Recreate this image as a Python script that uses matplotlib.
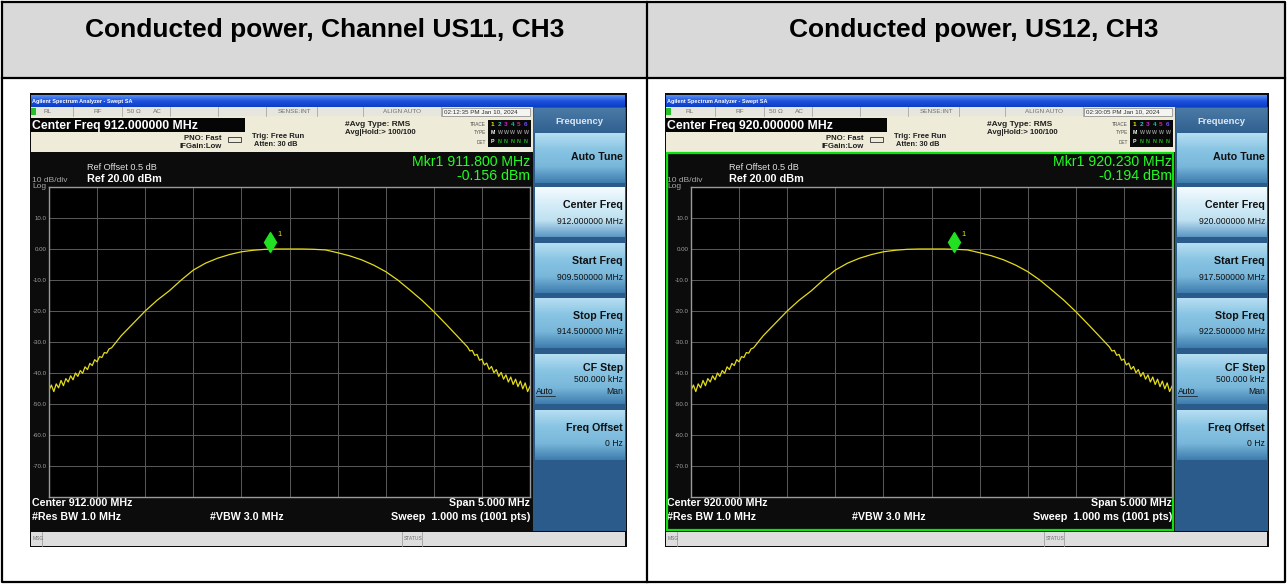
import numpy as np
import matplotlib.pyplot as plt
from matplotlib.patches import Rectangle
from matplotlib.colors import LinearSegmentedColormap
import matplotlib.transforms as mtransforms

plt.rcParams['font.family'] = ['Liberation Sans', 'DejaVu Sans']

# table headers and analyzer settings
titles = ["Conducted power, Channel US11, CH3", "Conducted power, US12, CH3"]
center_mhz = [912.0, 920.0]
span_mhz = 5.0
ref_dbm = 20.0
db_div = 10.0
mkr_mhz = [911.800, 920.230]
mkr_dbm = [-0.156, -0.194]
stamps = ["02:12:35 PM Jan 10, 2024", "02:30:05 PM Jan 10, 2024"]
cf_step = "500.000 kHz"
freq_offset = "0 Hz"

# trace: offset from centre (MHz) and level (dBm)
edge_lo_mhz = np.linspace(-2.5, -1.85, 27)
edge_lo_dbm = [-45.6, -43.9, -46.0, -43.5, -44.8, -42.4, -44.1, -41.8, -42.9,
               -40.9, -42.2, -40.0, -41.1, -39.2, -40.1, -38.0, -38.9, -36.9,
               -37.6, -35.7, -36.4, -34.7, -35.0, -33.4, -33.6, -32.2, -31.9]
mid_mhz = [-1.75, -1.625, -1.5, -1.375, -1.25, -1.125, -1.0, -0.875, -0.75,
           -0.625, -0.5, -0.375, -0.25, -0.125, 0.0, 0.125, 0.25, 0.375, 0.5,
           0.625, 0.75, 0.875, 1.0, 1.125, 1.25, 1.375, 1.5, 1.625, 1.75]
mid_dbm = [-28.0, -24.0, -20.0, -16.5, -13.5, -10.0, -6.8, -4.6, -3.0, -1.8,
           -0.9, -0.4, -0.1, 0.0, 0.0, 0.0, -0.1, -0.3, -1.2, -2.2, -3.5, -5.2,
           -7.3, -10.0, -13.2, -16.5, -20.2, -24.2, -28.3]
edge_hi_mhz = np.linspace(1.85, 2.5, 27)
edge_hi_dbm = [-31.6, -32.9, -32.7, -34.3, -34.0, -35.9, -35.5, -37.4, -36.8,
               -38.8, -37.9, -39.9, -38.9, -41.1, -39.8, -42.0, -40.6, -42.9,
               -41.3, -43.7, -42.0, -44.4, -42.6, -45.1, -43.2, -46.0, -44.3]

W, H = 1287, 584
fig = plt.figure(figsize=(W / 100, H / 100), dpi=100)
bg = fig.add_axes([0, 0, 1, 1])


def box(x0, y0, x1, y1, fc, ec='none', lw=0, z=1):
    bg.add_patch(Rectangle((x0, y0), x1 - x0, y1 - y0, fc=fc, ec=ec, lw=lw, zorder=z))


def vgrad(x0, y0, x1, y1, colors, z=1):
    cm = LinearSegmentedColormap.from_list('g', colors)
    bg.imshow(np.linspace(0, 1, 64)[:, None], cmap=cm, extent=(x0, x1, y1, y0),
              aspect='auto', zorder=z, interpolation='bilinear')


def txt(x, y, s, size, color='black', ha='left', weight='normal', z=5):
    bg.text(x, y, s, fontsize=size, color=color, ha=ha, va='center',
            fontweight=weight, zorder=z)


def vline(x, y0, y1, color, lw=0.6, z=3):
    bg.plot([x, x], [y0, y1], color=color, lw=lw, zorder=z)


# table frame
box(2, 2, 1285, 78, '#d9d9d9')
bg.plot([2, 1285, 1285, 2, 2], [2, 2, 582, 582, 2], color='black', lw=1.6, zorder=8)
bg.plot([2, 1285], [78, 78], color='black', lw=1.6, zorder=8)
vline(647, 2, 582, 'black', lw=1.6, z=8)
txt(325, 30, titles[0], 19, weight='bold', ha='center')
txt(974, 30, titles[1], 19, weight='bold', ha='center')


def screen(i, dx, fl):
    c = center_mhz[i]
    R = 627 + dx
    box(fl, 93, R, 547, '#0c0c0c')
    vgrad(fl + 1, 95, R - 2, 107, ['#5a92f6', '#1d52dd', '#0b3ec6'])
    txt(fl + 2, 101, 'Agilent Spectrum Analyzer - Swept SA', 4.0, 'white', weight='bold')

    # status row
    box(fl + 1, 107, 533 + dx, 116, '#e6e6de', z=2)
    box(fl + 1, 108, fl + 6, 115, '#28c028', z=3)
    for xs in [73, 122, 170, 218, 266, 317, 363, 441]:
        vline(xs + dx, 107, 116, '#a8a8a0')
    for xs, s in [(43, 'RL'), (93, 'RF'), (127, '50 \u03a9'), (153, 'AC'),
                  (278, 'SENSE:INT'), (383, 'ALIGN AUTO')]:
        txt(xs + dx, 111.5, s, 4.6, '#707070')
    box(442 + dx, 108, 530 + dx, 115.5, '#f4f4f0', '#808080', 0.5, z=3)
    txt(443.5 + dx, 111.5, stamps[i], 4.5, '#303030')

    # settings area
    box(fl + 1, 116, 533 + dx, 152, '#eeebd8', z=2)
    box(fl + 1, 118, 245 + dx, 132, '#050505', z=3)
    txt(fl + 2, 125.5, 'Center Freq %.6f MHz' % c, 8.8, 'white', weight='bold')
    txt(222 + dx, 139, 'PNO: Fast', 5.6, '#202020', ha='right', weight='bold')
    txt(222 + dx, 147, 'IFGain:Low', 5.6, '#202020', ha='right', weight='bold')
    bg.add_patch(Rectangle((228 + dx, 137), 13, 5, fc='none', ec='#303030', lw=0.6,
                           zorder=4))
    txt(252 + dx, 136, 'Trig: Free Run', 5.6, '#202020', weight='bold')
    txt(254 + dx, 145, 'Atten: 30 dB', 5.3, '#202020', weight='bold')
    txt(345 + dx, 125, '#Avg Type: RMS', 6.0, '#202020', weight='bold')
    txt(345 + dx, 133, 'Avg|Hold:> 100/100', 5.6, '#202020', weight='bold')
    for yy, s in [(124, 'TRACE'), (133, 'TYPE'), (142, 'DET')]:
        txt(486 + dx, yy, s, 3.4, '#505050', ha='right')
    box(488 + dx, 120, 531 + dx, 147, '#080808', z=3)
    cols = ['#e8e800', '#20c8c8', '#d020d0', '#20b0a0', '#e02090', '#6a50ff']
    for k in range(6):
        txt(491 + dx + 6.5 * k, 124.5, str(k + 1), 4.6, cols[k], weight='bold')
        txt(491 + dx + 6.5 * k, 133, 'M' if k == 0 else 'W', 3.8,
            'white' if k == 0 else '#909090', weight='bold')
        txt(491 + dx + 6.5 * k, 141.5, 'P' if k == 0 else 'N', 3.8,
            'white' if k == 0 else '#20c020', weight='bold')

    # display annotations
    txt(87 + dx, 167, 'Ref Offset 0.5 dB', 6.6, '#e0e0e0')
    txt(87 + dx, 179, 'Ref %.2f dBm' % ref_dbm, 7.8, 'white', weight='bold')
    txt(fl + 2, 180, '%d dB/div' % db_div, 6.0, '#a8a8a8')
    txt(fl + 2, 187, 'Log', 6.0, '#a8a8a8')
    txt(530 + dx, 162, 'Mkr1 %.3f MHz' % mkr_mhz[i], 10.2, '#20ff20', ha='right')
    txt(530 + dx, 176, '%.3f dBm' % mkr_dbm[i], 10.2, '#20ff20', ha='right')
    txt(fl + 2, 503, 'Center %.3f MHz' % c, 7.7, 'white', weight='bold')
    txt(530 + dx, 503, 'Span %.3f MHz' % span_mhz, 7.7, 'white', ha='right', weight='bold')
    txt(fl + 2, 517, '#Res BW 1.0 MHz', 7.7, 'white', weight='bold')
    txt(210 + dx, 517, '#VBW 3.0 MHz', 7.7, 'white', weight='bold')
    txt(530 + dx, 517, 'Sweep  1.000 ms (1001 pts)', 7.8, 'white', ha='right',
        weight='bold')
    if i == 1:
        box(fl + 2, 152.5, 1173, 529.5, 'none', '#10e010', 1.6, z=6)

    # message bar
    box(fl + 1, 532, R - 2, 545.5, '#dedede', z=2)
    vline(fl + 12, 532, 545.5, '#a0a0a0')
    vline(402 + dx, 532, 545.5, '#a0a0a0')
    vline(422 + dx, 532, 545.5, '#a0a0a0')
    txt(fl + 3, 538.5, 'MSG', 3.6, '#707070')
    txt(404 + dx, 538.5, 'STATUS', 3.6, '#707070')

    # softkey column
    box(533 + dx, 107, 626 + dx, 531, '#2b5b8b', z=2)
    vgrad(534 + dx, 108, 625 + dx, 133, ['#4b7aa6', '#30608f'], z=3)
    txt(579 + dx, 121, 'Frequency', 6.8, '#dce8f2', ha='center', weight='bold')
    keys = [('Auto Tune', None), ('Center Freq', '%.6f MHz' % c),
            ('Start Freq', '%.6f MHz' % (c - span_mhz / 2)),
            ('Stop Freq', '%.6f MHz' % (c + span_mhz / 2)),
            ('CF Step', cf_step), ('Freq Offset', freq_offset)]
    tops = [133, 187, 243, 298, 354, 410]
    for k, ((lab, val), t) in enumerate(zip(keys, tops)):
        if k == 1:
            cc = ['#f4fbfe', '#d6edf8', '#bfe1f1', '#5c98c4']
        else:
            cc = ['#b6def1', '#88c4e3', '#79b7da', '#3f7daf']
        vgrad(535 + dx, t, 625 + dx, t + 50, cc, z=3)
        if val is None:
            txt(623 + dx, t + 24, lab, 7.7, '#101010', ha='right', weight='bold')
        elif lab == 'CF Step':
            txt(623 + dx, t + 14, lab, 7.7, '#101010', ha='right', weight='bold')
            txt(623 + dx, t + 25, val, 6.2, '#101010', ha='right')
            txt(623 + dx, t + 37, 'Man', 6.2, '#101010', ha='right')
            bg.text(536 + dx, t + 37, 'Auto', fontsize=6.2, color='#101010', va='center',
                    zorder=5)
            bg.plot([536 + dx, 555 + dx], [t + 41.5, t + 41.5], color='#101010', lw=0.5,
                    zorder=5)
        else:
            txt(623 + dx, t + 18, lab, 7.7, '#101010', ha='right', weight='bold')
            txt(623 + dx, t + 34, val, 6.2, '#101010', ha='right')

    # graticule with the trace
    ax = fig.add_axes([(49 + dx) / W, 1 - 497 / H, 481 / W, 310 / H])
    ax.set_facecolor('black')
    ax.set_xlim(c - span_mhz / 2, c + span_mhz / 2)
    ax.set_ylim(ref_dbm - 10 * db_div, ref_dbm)
    ax.set_xticks(c + np.arange(-2.0, 2.01, 0.5))
    ax.set_xticklabels([])
    yt = np.arange(ref_dbm - db_div, ref_dbm - 10 * db_div + 1, -db_div)
    ax.set_yticks(yt)
    ax.set_yticklabels(['0.00' if v == 0 else '%.1f' % v for v in yt])
    ax.tick_params(length=0, pad=1.5, labelsize=4.4, labelcolor='#a0a0a0')
    ax.grid(True, color='#5a5a5a', lw=0.7)
    for sp in ax.spines.values():
        sp.set_color('#9a9a9a')
        sp.set_linewidth(1.0)
    f = np.concatenate([edge_lo_mhz, mid_mhz, edge_hi_mhz]) + c
    lv = np.concatenate([edge_lo_dbm, mid_dbm, edge_hi_dbm])
    ax.plot(f, lv, color='#e4dc1c', lw=0.9)
    up = mtransforms.offset_copy(ax.transData, fig=fig, x=0, y=5.2, units='points')
    ax.plot([mkr_mhz[i]], [mkr_dbm[i]], marker='d', ms=10, color='#22e022',
            transform=up, clip_on=False)
    lab = mtransforms.offset_copy(ax.transData, fig=fig, x=5.5, y=11, units='points')
    ax.text(mkr_mhz[i], mkr_dbm[i], '1', transform=lab, fontsize=5.5, color='#e4dc1c',
            va='center')


screen(0, 0, 30)
screen(1, 642, 665)

bg.set_xlim(0, W)
bg.set_ylim(H, 0)
bg.axis('off')

fig.savefig('out.png', dpi=100)
